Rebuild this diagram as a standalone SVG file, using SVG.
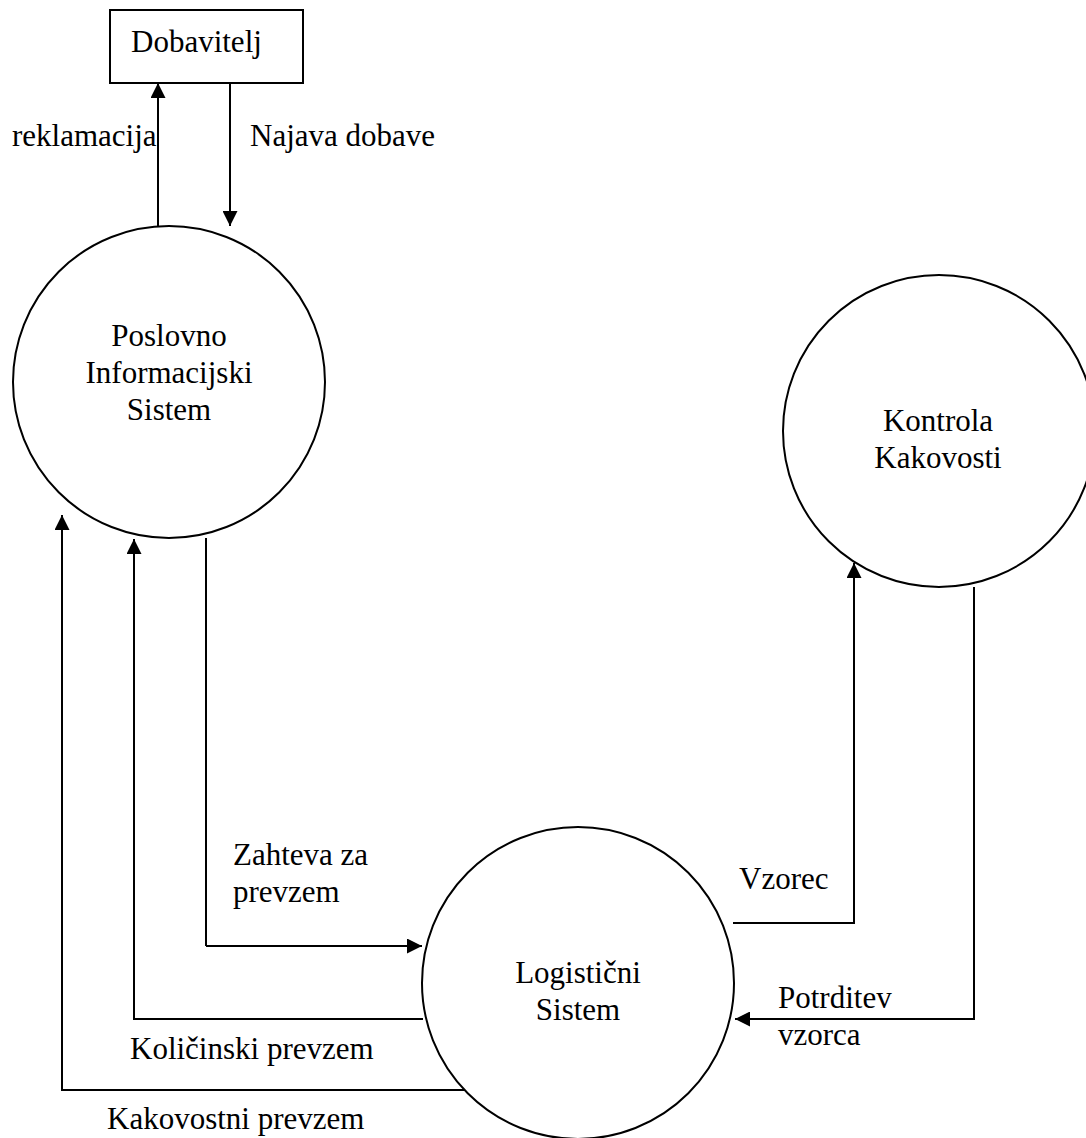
<svg xmlns="http://www.w3.org/2000/svg" width="1086" height="1138" viewBox="0 0 1086 1138">
<style>
  .shape { fill: #ffffff; stroke: #000000; stroke-width: 2; }
  .flow { fill: none; stroke: #000000; stroke-width: 2; }
  .arrow { fill: none; stroke: #000000; stroke-width: 2; marker-end: url(#ah); }
  text { font-family: "Liberation Serif", "Times New Roman", serif; font-size: 31px; fill: #000000; }
  .c { text-anchor: middle; }
</style>
<defs>
  <marker id="ah" viewBox="0 0 15 15" refX="15" refY="7.5" markerWidth="15" markerHeight="15" markerUnits="userSpaceOnUse" orient="auto">
    <path d="M0,0 L15,7.5 L0,15 z" fill="#000000"/>
  </marker>
</defs>
<rect width="1086" height="1138" fill="#ffffff"/>
<g id="connectors">
  <path class="arrow" d="M158,228 L158,83"/>
  <path class="arrow" d="M230,83 L230,226"/>
  <path class="flow" d="M206,538 L206,946"/>
  <path class="arrow" d="M206,946 L422,946"/>
  <path class="arrow" d="M423,1019 L134,1019 L134,539"/>
  <path class="arrow" d="M471,1090 L62,1090 L62,515"/>
  <path class="arrow" d="M733,923 L854,923 L854,563"/>
  <path class="arrow" d="M974,587 L974,1019 L735,1019"/>
</g>
<g id="labels">
  <text x="12" y="146">reklamacija</text>
  <text x="250" y="146">Najava dobave</text>
  <text x="233" y="865">Zahteva za</text>
  <text x="233" y="902">prevzem</text>
  <text x="130" y="1059">Količinski prevzem</text>
  <text x="107" y="1129">Kakovostni prevzem</text>
  <text x="739" y="889">Vzorec</text>
  <text x="778" y="1008">Potrditev</text>
  <text x="778" y="1045">vzorca</text>
</g>
<g id="dobavitelj">
  <rect class="shape" x="110" y="10" width="193" height="73"/>
  <text x="131" y="52">Dobavitelj</text>
</g>
<g id="poslovno">
  <circle class="shape" cx="169" cy="382" r="156"/>
  <text class="c" x="169" y="346">Poslovno</text>
  <text class="c" x="169" y="383">Informacijski</text>
  <text class="c" x="169" y="420">Sistem</text>
</g>
<g id="kontrola">
  <circle class="shape" cx="939" cy="431" r="156"/>
  <text class="c" x="938" y="431">Kontrola</text>
  <text class="c" x="938" y="468">Kakovosti</text>
</g>
<g id="logisticni">
  <circle class="shape" cx="578" cy="983" r="156"/>
  <text class="c" x="578" y="983">Logistični</text>
  <text class="c" x="578" y="1020">Sistem</text>
</g>
</svg>
